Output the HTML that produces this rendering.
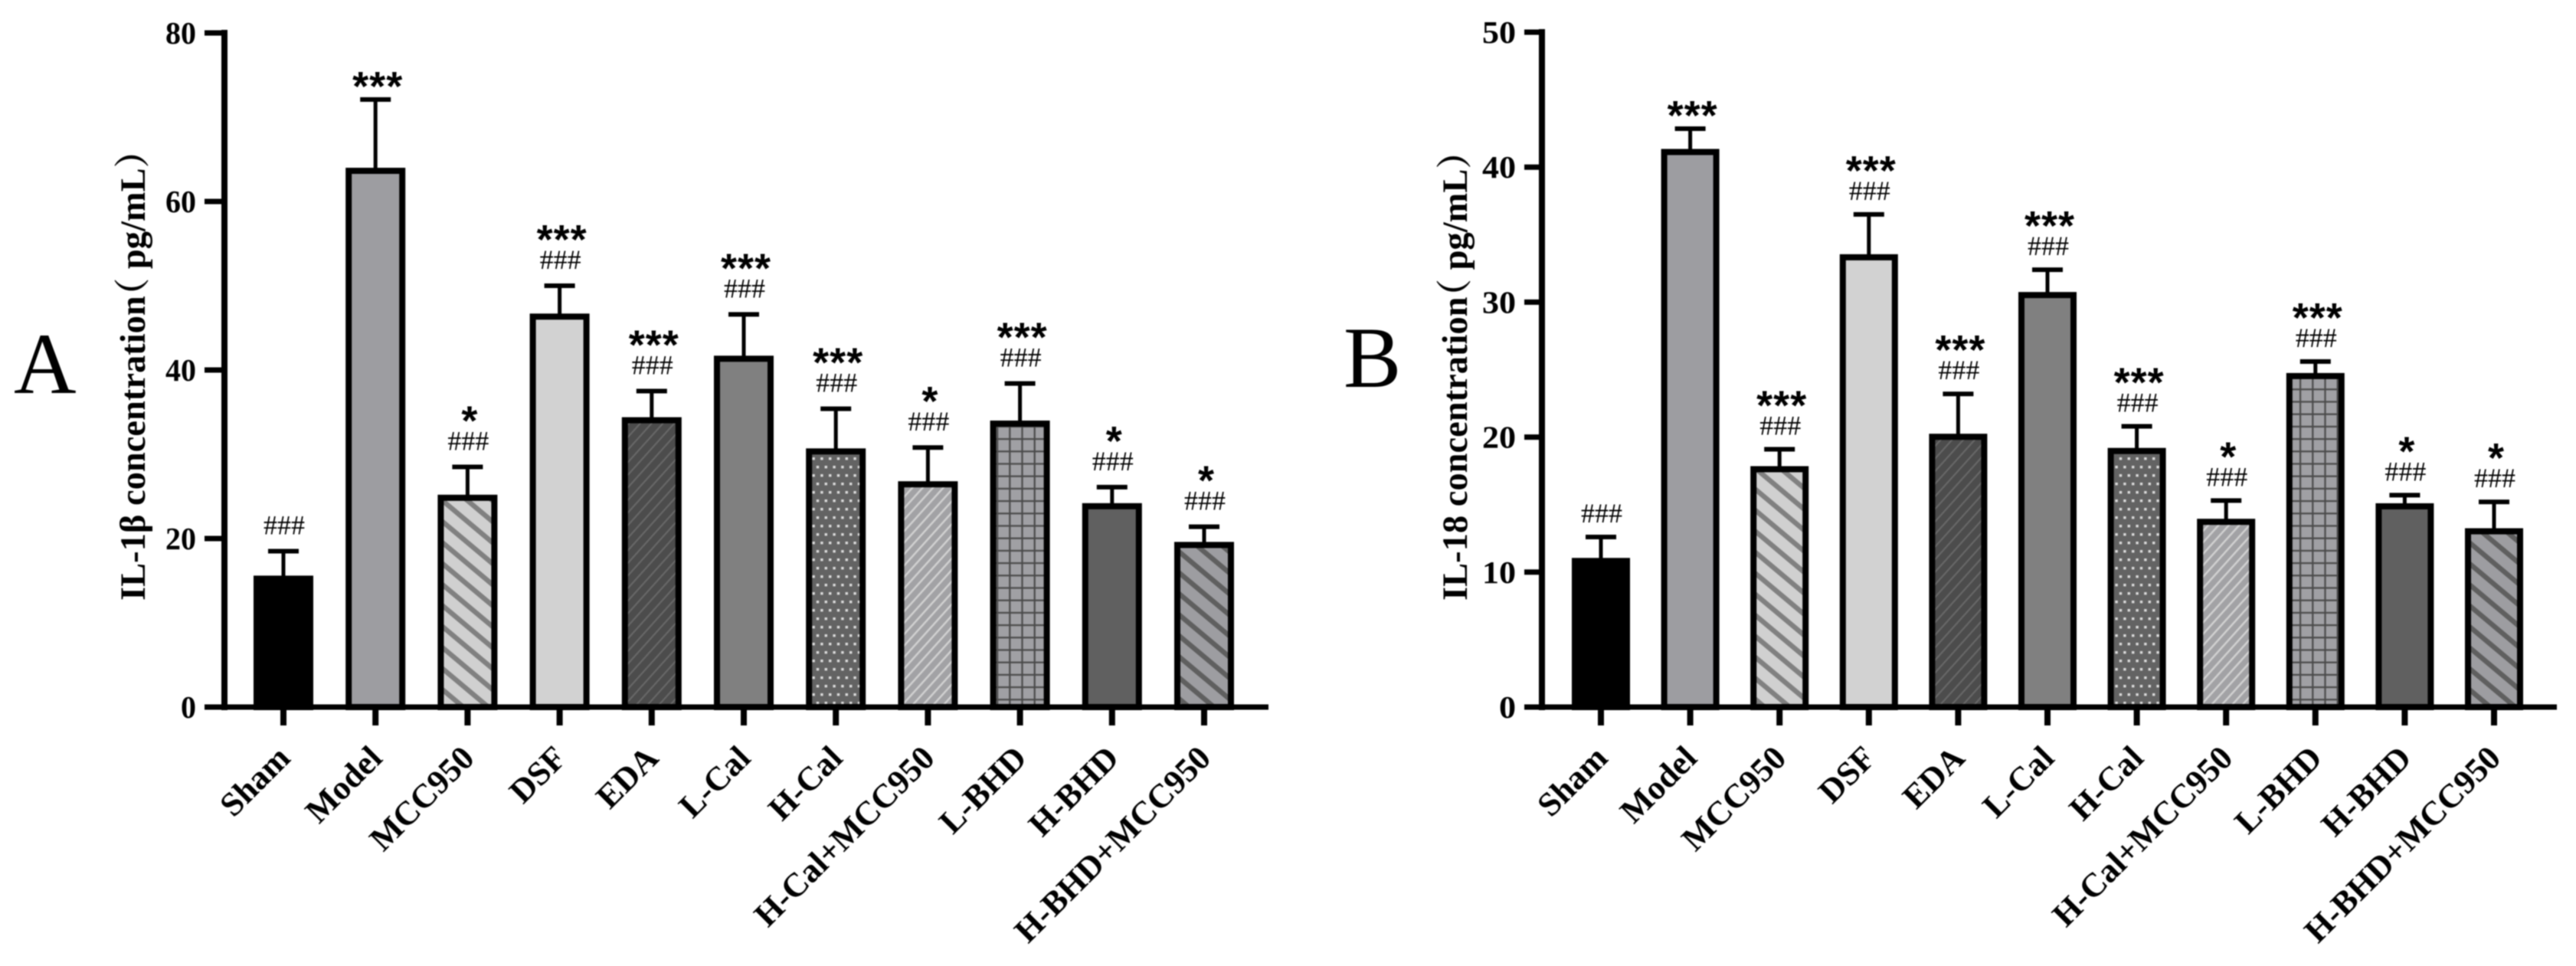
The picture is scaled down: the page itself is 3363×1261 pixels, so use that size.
<!DOCTYPE html>
<html lang="en">
<head>
<meta charset="utf-8">
<title>IL-1β and IL-18 concentration bar charts</title>
<style>
  html, body { margin: 0; padding: 0; background: #fff; width: 3363px; height: 1261px; overflow: hidden; }
  svg { display: block; filter: blur(0.7px); }
  text { fill: #000; }
  .serif { font-family: "Liberation Serif", "Noto Serif CJK SC", serif; }
  .sans { font-family: "Liberation Sans", sans-serif; }
</style>
</head>
<body>
<svg id="figure" xmlns="http://www.w3.org/2000/svg" width="3363" height="1261" viewBox="0 0 3363 1261">
  <defs>
    <pattern id="p-wide-dark-on-light" patternUnits="userSpaceOnUse" width="21" height="21" patternTransform="rotate(40)">
      <rect width="21" height="21" fill="#d0d0d0"/><rect width="21" height="6.5" fill="#808080"/>
    </pattern>
    <pattern id="p-thin-on-dark" patternUnits="userSpaceOnUse" width="11" height="11" patternTransform="rotate(-48)">
      <rect width="11" height="11" fill="#4c4c4c"/><rect width="11" height="2" fill="#696969"/>
    </pattern>
    <pattern id="p-dots" patternUnits="userSpaceOnUse" width="10.8" height="22">
      <rect width="10.8" height="22" fill="#636363"/>
      <rect x="2" y="3" width="3.4" height="3.4" fill="#dcdcdc"/>
      <rect x="7.4" y="14" width="3.4" height="3.4" fill="#dcdcdc"/>
    </pattern>
    <pattern id="p-thin-light" patternUnits="userSpaceOnUse" width="10" height="10" patternTransform="rotate(-48)">
      <rect width="10" height="10" fill="#a2a2a5"/><rect width="10" height="2.4" fill="#d2d2d2"/>
    </pattern>
    <pattern id="p-grid" patternUnits="userSpaceOnUse" width="16.2" height="16.2">
      <rect width="16.2" height="16.2" fill="#a0a0a4"/>
      <rect x="5" width="2.2" height="16.2" fill="#4a4a4a"/>
      <rect y="5" width="16.2" height="2.2" fill="#4a4a4a"/>
    </pattern>
    <pattern id="p-wide-dark-on-mid" patternUnits="userSpaceOnUse" width="21" height="21" patternTransform="rotate(40)">
      <rect width="21" height="21" fill="#9d9da1"/><rect width="21" height="6.5" fill="#5f5f5f"/>
    </pattern>
  </defs>
</svg>
<script>
// ---- data ----
const categories = ["Sham", "Model", "MCC950", "DSF", "EDA", "L-Cal", "H-Cal", "H-Cal+MCC950", "L-BHD", "H-BHD", "H-BHD+MCC950"];

const ilBetaMeans = [15.6, 64.0, 25.2, 46.7, 34.4, 41.7, 30.7, 26.8, 34.0, 24.2, 19.6];
const ilBetaErrors = [2.9, 8.1, 3.3, 3.3, 3.1, 4.9, 4.7, 4.0, 4.4, 1.9, 1.8];
const ilBetaStars = ["", "***", "*", "***", "***", "***", "***", "*", "***", "*", "*"];
const ilBetaHashes = ["###", "", "###", "###", "###", "###", "###", "###", "###", "###", "###"];
const ilBetaTicks = [0, 20, 40, 60, 80];

const il18Means = [11.05, 41.35, 17.85, 33.55, 20.25, 30.75, 19.2, 13.95, 24.75, 15.1, 13.25];
const il18Errors = [1.55, 1.5, 1.25, 2.95, 2.95, 1.65, 1.6, 1.35, 0.85, 0.6, 1.95];
const il18Stars = ["", "***", "***", "***", "***", "***", "***", "*", "***", "*", "*"];
const il18Hashes = ["###", "", "###", "###", "###", "###", "###", "###", "###", "###", "###"];
const il18Ticks = [0, 10, 20, 30, 40, 50];

// ---- bar appearance, one per category ----
const barFills = ["#000000", "#9d9da1", "url(#p-wide-dark-on-light)", "#d2d2d2", "url(#p-thin-on-dark)", "#808080",
                  "url(#p-dots)", "url(#p-thin-light)", "url(#p-grid)", "#606060", "url(#p-wide-dark-on-mid)"];

const SVG_NS = "http://www.w3.org/2000/svg";
const figure = document.getElementById("figure");

function make(tag, parent, attrs) {
  const el = document.createElementNS(SVG_NS, tag);
  for (const k in attrs) el.setAttribute(k, attrs[k]);
  parent.appendChild(el);
  return el;
}

function slug(s) {
  return s.toLowerCase().replace(/[^a-z0-9]+/g, "-");
}

function renderPanel(p) {
  const yScale = v => p.y0 - (v / p.yMax) * (p.y0 - p.yTop);
  const xScale = i => p.xFirst + i * p.xStep;

  const panel = make("g", figure, {});
  
  

  // panel letter
  const letter = make("text", panel, { x: p.letterX, y: p.letterY, class: "serif", "font-size": p.letterSize });
  
  
  letter.textContent = p.letter;

  // y-axis title: the fullwidth paren's blank left half is pulled back with dx
  const title = make("text", panel, {
    transform: "translate(" + p.titleX + ",784) rotate(-90)",
    class: "serif", "font-size": 46.5, "font-weight": "bold"
  });
  
  
  title.appendChild(document.createTextNode(p.title + " concentration"));
  const open = make("tspan", title, { dx: -23 });
  open.textContent = "（";
  title.appendChild(document.createTextNode(" pg/mL"));
  const close = make("tspan", title, {});
  close.textContent = "）";

  // bars
  p.means.forEach((m, i) => {
    const cx = xScale(i);
    const top = yScale(m);
    const errTop = yScale(m + p.errors[i]);

    const stem = make("rect", panel, { x: cx - 2.5, y: errTop, width: 5, height: top - errTop + 2, fill: "#000" });
    
    

    const cap = make("rect", panel, { x: cx - 20, y: errTop - 3, width: 40, height: 6, fill: "#000" });
    
    

    const bar = make("rect", panel, {
      x: cx - p.barW / 2 + 4, y: top + 4, width: p.barW - 8, height: p.y0 - top - 4,
      fill: barFills[i], stroke: "#000", "stroke-width": 8
    });
    
    

    // significance marks sit a fixed distance above the error cap
    let markY = errTop;
    if (p.hashes[i]) {
      markY = errTop - p.hashGap;
      const hash = make("text", panel, {
        x: cx + 1, y: markY + 12, "text-anchor": "middle", class: "serif", "font-size": 36
      });
      
      
      hash.textContent = p.hashes[i];
    }
    if (p.stars[i]) {
      const starY = p.hashes[i] ? markY - 35 : errTop - 26;
      const star = make("text", panel, {
        x: cx + 3, y: starY + 27, "text-anchor": "middle", class: "sans",
        "font-size": 54, "font-weight": "bold", "letter-spacing": 1
      });
      
      
      star.textContent = p.stars[i];
    }

    // x tick + label
    const tick = make("rect", panel, { x: cx - 4, y: p.y0, width: 8, height: 24, fill: "#000" });
    
    

    const label = make("text", panel, {
      transform: "translate(" + (cx + 11) + ",992) rotate(-45)",
      "text-anchor": "end", class: "serif", "font-size": 44, "font-weight": "bold"
    });
    
    
    label.textContent = categories[i];
  });

  // axes
  const yAxis = make("rect", panel, { x: p.axisX - 4, y: p.yTop - 4, width: 8, height: p.y0 - p.yTop + 8, fill: "#000" });
  
  

  const xAxis = make("rect", panel, { x: p.tickLeft, y: p.y0 - 3.5, width: p.axisEnd - p.tickLeft, height: 7, fill: "#000" });
  
  

  p.ticks.forEach(t => {
    const ty = yScale(t);
    const tick = make("rect", panel, { x: p.tickLeft, y: ty - 3.5, width: p.axisX - p.tickLeft, height: 7, fill: "#000" });
    
    

    const label = make("text", panel, {
      x: p.tickLeft - 11, y: ty + 14, "text-anchor": "end", class: "serif",
      "font-size": 41, "font-weight": "bold",
      textLength: String(t).length * p.digitW, lengthAdjust: "spacingAndGlyphs"
    });
    
    
    label.textContent = t;
  });
}

renderPanel({
  id: "a", letter: "A", letterX: 18, letterY: 513, letterSize: 113,
  title: "IL-1β", titleX: 189, digitW: 20,
  means: ilBetaMeans, errors: ilBetaErrors, stars: ilBetaStars, hashes: ilBetaHashes, ticks: ilBetaTicks,
  yMax: 80, y0: 923, yTop: 43, axisX: 293, tickLeft: 267, axisEnd: 1656,
  xFirst: 370, xStep: 120.2, barW: 78, hashGap: 34
});

renderPanel({
  id: "b", letter: "B", letterX: 1754, letterY: 505, letterSize: 113,
  title: "IL-18", titleX: 1915, digitW: 22,
  means: il18Means, errors: il18Errors, stars: il18Stars, hashes: il18Hashes, ticks: il18Ticks,
  yMax: 50, y0: 923, yTop: 42, axisX: 2013, tickLeft: 1990, axisEnd: 3338,
  xFirst: 2090, xStep: 116.6, barW: 76, hashGap: 31
});
</script>
</body>
</html>
